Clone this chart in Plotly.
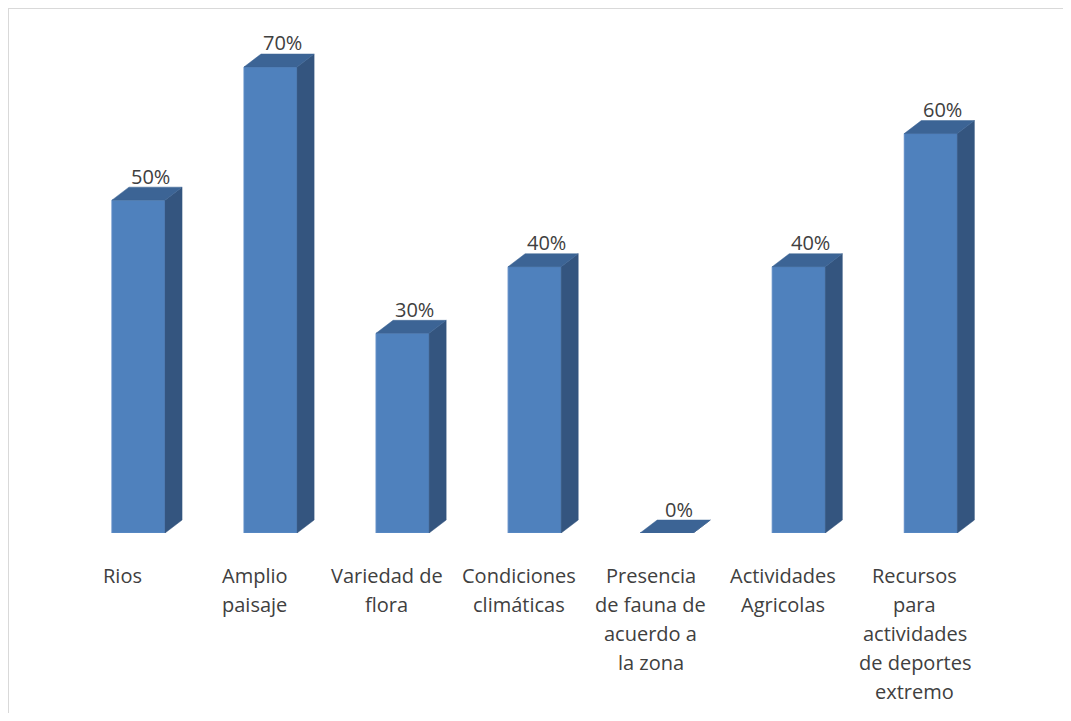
import plotly.graph_objects as go

# datos del grafico
categorias = [
    ["Rios"],
    ["Amplio", "paisaje"],
    ["Variedad de", "flora"],
    ["Condiciones", "climáticas"],
    ["Presencia", "de fauna de", "acuerdo a", "la zona"],
    ["Actividades", "Agricolas"],
    ["Recursos", "para", "actividades", "de deportes", "extremo"],
]
valores = [50, 70, 30, 40, 0, 40, 60]
etiquetas = ["50%", "70%", "30%", "40%", "0%", "40%", "60%"]

# geometria de las barras "3D" (en unidades de categoria / porcentaje)
izq = -0.08
der = 0.322
prof_x = 0.129
prof_y = 1.95

frente_x, frente_y = [], []
lado_x, lado_y = [], []
techo_x, techo_y = [], []
for i, v in enumerate(valores):
    x0, x1 = i + izq, i + der
    frente_x += [x0, x1, x1, x0, x0, None]
    frente_y += [0, 0, v, v, 0, None]
    lado_x += [x1, x1 + prof_x, x1 + prof_x, x1, x1, None]
    lado_y += [0, prof_y, v + prof_y, v, 0, None]
    techo_x += [x0, x1, x1 + prof_x, x0 + prof_x, x0, None]
    techo_y += [v, v, v + prof_y, v + prof_y, v, None]

fig = go.Figure()
fig.add_trace(go.Scatter(x=frente_x, y=frente_y, fill="toself", mode="lines",
                         fillcolor="#4F81BD", line=dict(color="#5E8CC6", width=1),
                         hoverinfo="skip"))
fig.add_trace(go.Scatter(x=lado_x, y=lado_y, fill="toself", mode="lines",
                         fillcolor="#34557F", line=dict(color="#34557F", width=0.5),
                         hoverinfo="skip"))
fig.add_trace(go.Scatter(x=techo_x, y=techo_y, fill="toself", mode="lines",
                         fillcolor="#3C6495", line=dict(color="#3C6495", width=0.5),
                         hoverinfo="skip"))

fuente = dict(family="Open Sans, Lato, sans-serif", size=20, color="#404040")

# etiquetas de porcentaje
for i, v in enumerate(valores):
    fig.add_annotation(x=i + 0.212, y=v, text=etiquetas[i], showarrow=False,
                       xanchor="center", yanchor="middle", yshift=24, font=fuente)

# etiquetas de categoria, linea por linea
for i, lineas in enumerate(categorias):
    for j, t in enumerate(lineas):
        fig.add_annotation(x=i, y=0, text=t, showarrow=False, xanchor="center",
                           yanchor="middle", yshift=-42 - 29 * j, font=fuente)

# marco del grafico
fig.add_shape(type="line", xref="paper", yref="paper", x0=0, x1=0, y0=-0.4, y1=1,
              line=dict(color="#D9D9D9", width=2))
fig.add_shape(type="line", xref="paper", yref="paper", x0=0, x1=1.1, y0=1, y1=1,
              line=dict(color="#D9D9D9", width=2))

fig.update_layout(
    width=1055, height=705,
    margin=dict(l=0, r=0, t=0, b=180),
    paper_bgcolor="white", plot_bgcolor="white",
    showlegend=False,
    xaxis=dict(range=[-0.867, 7.122], visible=False, fixedrange=True),
    yaxis=dict(range=[0, 78.86], visible=False, fixedrange=True),
)

fig.write_html("out.html")
